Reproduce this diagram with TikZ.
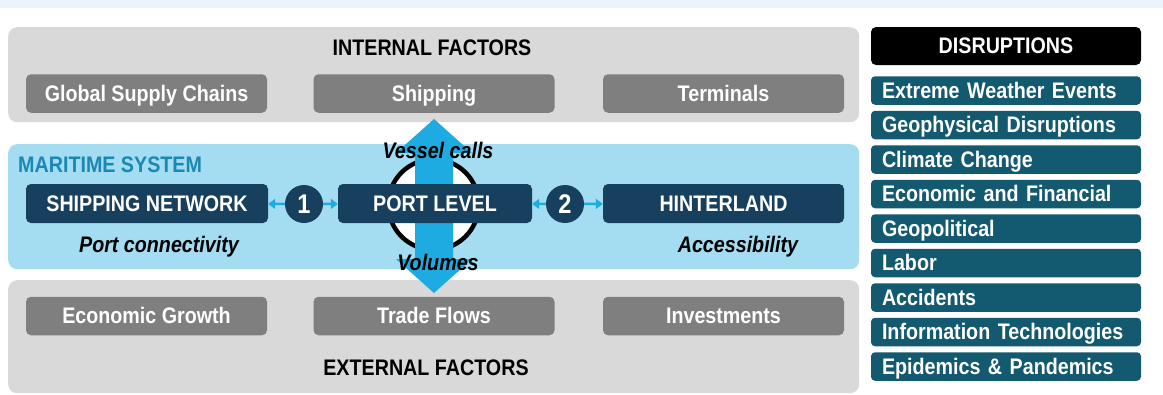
\documentclass[tikz,border=0pt]{standalone}
\usepackage{fontspec}
\setmainfont{Liberation Sans}[FakeStretch=0.875]
\usetikzlibrary{arrows.meta}
\definecolor{band}{HTML}{EBF4FC}
\definecolor{panelgray}{HTML}{D9D9D9}
\definecolor{boxgray}{HTML}{7F7F7F}
\definecolor{maritime}{HTML}{A4DDF2}
\definecolor{navy}{HTML}{16405E}
\definecolor{arrowblue}{HTML}{1DABE1}
\definecolor{msys}{HTML}{1A88B4}
\definecolor{tealbox}{HTML}{13596F}
\tikzset{
  txt/.style={font=\fontsize{22.5}{25}\selectfont\bfseries, inner sep=0pt, text height=15.6pt, text depth=0pt},
  itxt/.style={txt, font=\fontsize{22.5}{25}\selectfont\bfseries\itshape},
  panel/.style={rounded corners=9pt, inner sep=0pt, anchor=north west},
  factorbox/.style={txt, fill=boxgray, text=white, rounded corners=5pt, minimum width=241pt, minimum height=38.5pt},
  navybox/.style={txt, fill=navy, text=white, rounded corners=5pt, minimum height=39pt},
  numcirc/.style={circle, fill=navy, text=white, inner sep=0pt, minimum size=38pt, font=\fontsize{27}{29}\selectfont\bfseries},
  disbox/.style={txt, fill=tealbox, text=white, rounded corners=4pt, minimum width=270pt, minimum height=28.5pt, text width=248pt, align=left},
  smallarr/.style={draw=arrowblue, line width=2.4pt, -{Triangle[length=7pt,width=10pt]}}
}
\begin{document}
\begin{tikzpicture}[x=1pt,y=-1pt]
\useasboundingbox (0,0) rectangle (1163,394);
\fill[band] (0,0) rectangle (1163,8);
% panels
\node[panel, fill=panelgray, minimum width=851pt, minimum height=95pt] (intp) at (8,27) {};
\node[panel, fill=maritime, minimum width=851pt, minimum height=125pt] (marp) at (8,144) {};
\node[panel, fill=panelgray, minimum width=851pt, minimum height=113pt] (extp) at (8,280) {};
% internal factors
\node[txt] (intt) at (432,47.5) {INTERNAL FACTORS};
\node[factorbox] (gsc) at (146.5,93.5) {Global Supply Chains};
\node[factorbox] (shp) at (434,93.5) {Shipping};
\node[factorbox] (trm) at (723.5,93.5) {Terminals};
% external factors
\node[factorbox] (ecg) at (146.5,316) {Economic Growth};
\node[factorbox] (trf) at (434,316) {Trade Flows};
\node[factorbox] (inv) at (723.5,316) {Investments};
\node[txt] (extt) at (426,367.5) {EXTERNAL FACTORS};
% maritime system
\node[txt, text=msys, anchor=west] (mst) at (18,164.5) {MARITIME SYSTEM};
\node[navybox, minimum width=242pt] (sn) at (147,203.5) {SHIPPING NETWORK};
\node[navybox, minimum width=241pt] (hl) at (723.5,203.5) {HINTERLAND};
% port circle and vertical arrow
\node[circle, draw=black, fill=white, line width=4.5pt, minimum size=90.5pt, inner sep=0pt] (pc) at (433.5,204.5) {};
\fill[arrowblue] (434,119) coordinate (vtop) -- (472,153) -- (453,153) -- (453,259) -- (472,259) -- (434,293) coordinate (vbot) -- (396,259) -- (415,259) -- (415,153) -- (396,153) -- cycle;
\node[navybox, minimum width=194pt] (pl) at (435,203.5) {PORT LEVEL};
% numbered links
\node[numcirc] (c1) at (304,204) {1};
\node[numcirc] (c2) at (565,204) {2};
\draw[smallarr] (c1) -- (sn);
\draw[smallarr] (c1) -- (pl);
\draw[smallarr] (c2) -- (pl);
\draw[smallarr] (c2) -- (hl);
% italic labels
\node[itxt] (pcon) at (159,244.5) {Port connectivity};
\node[itxt] (acc) at (738,244.5) {Accessibility};
\node[itxt] (vc) at (438,150.5) {Vessel calls};
\node[itxt] (vol) at (438,262.5) {Volumes};
% disruptions
\node[txt, fill=black, text=white, rounded corners=5pt, minimum width=270pt, minimum height=38pt] (dis) at (1006,46) {DISRUPTIONS};
\foreach \t [count=\i] in {Extreme Weather Events, Geophysical Disruptions, Climate Change, Economic and Financial, Geopolitical, Labor, Accidents, Information Technologies, Epidemics \& Pandemics}{
  \node[disbox] (d\i) at (1006,{90.5+34.5*(\i-1)}) {\t};
}
\end{tikzpicture}
\end{document}
